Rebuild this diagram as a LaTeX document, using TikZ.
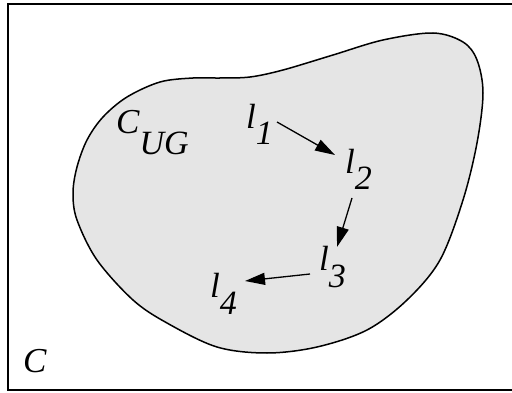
\documentclass[tikz,border=0pt]{standalone}
\usepackage{fontspec}
\setmainfont{Liberation Serif}
\usetikzlibrary{arrows.meta}
\newcommand{\mainsz}{\fontsize{35}{35}\selectfont\itshape}
\newcommand{\subsz}{\fontsize{34}{34}\selectfont\itshape}
\newcommand{\lbl}[3]{{\mainsz #1}\raisebox{-#3pt}{\subsz #2}}
\tikzset{
  lab/.style={inner sep=0pt, anchor=base west},
  arr/.style={line width=1.3pt, -{Triangle[length=20pt,width=12pt]}},
  blob/.style={line width=1.5pt, fill=black!10, draw=black}
}
\begin{document}
\begin{tikzpicture}[x=1pt,y=-1pt]
\useasboundingbox (0,0) rectangle (512,393);
\draw[line width=2pt] (530,4) -- (8,4) -- (8,390) -- (530,390);
\draw[blob] plot[smooth cycle, tension=0.55] coordinates {
 (433,33) (463,42) (477,60) (483,93) (477,143) (463,200) (440,260) (407,300)
 (367,330) (317,347) (267,353) (217,347) (167,323) (133,300) (97,260) (77,220)
 (73,193) (77,167) (87,140) (103,117) (127,97) (160,82) (193,78) (220,78)
 (250,77) (283,70) (333,55) (383,40)};
\node[lab] (C) at (23,372) {\mainsz C};
\node[lab] (CUG) at (116,134) {\lbl{C}{UG}{21}};
\node[lab] (l1) at (246,129) {\lbl{l}{1}{16}};
\node[lab] (l2) at (345,174) {\lbl{l}{2}{16}};
\node[lab] (l3) at (319,271) {\lbl{l}{3}{17}};
\node[lab] (l4) at (210,298) {\lbl{l}{4}{17}};
\coordinate (a1s) at (277,122);
\coordinate (a1e) at (335,155);
\coordinate (a2s) at (352,198);
\coordinate (a2e) at (337,247);
\coordinate (a3s) at (310,274);
\coordinate (a3e) at (245,281);
\draw[arr] (a1s) -- (a1e);
\draw[arr] (a2s) -- (a2e);
\draw[arr] (a3s) -- (a3e);
\end{tikzpicture}
\end{document}
